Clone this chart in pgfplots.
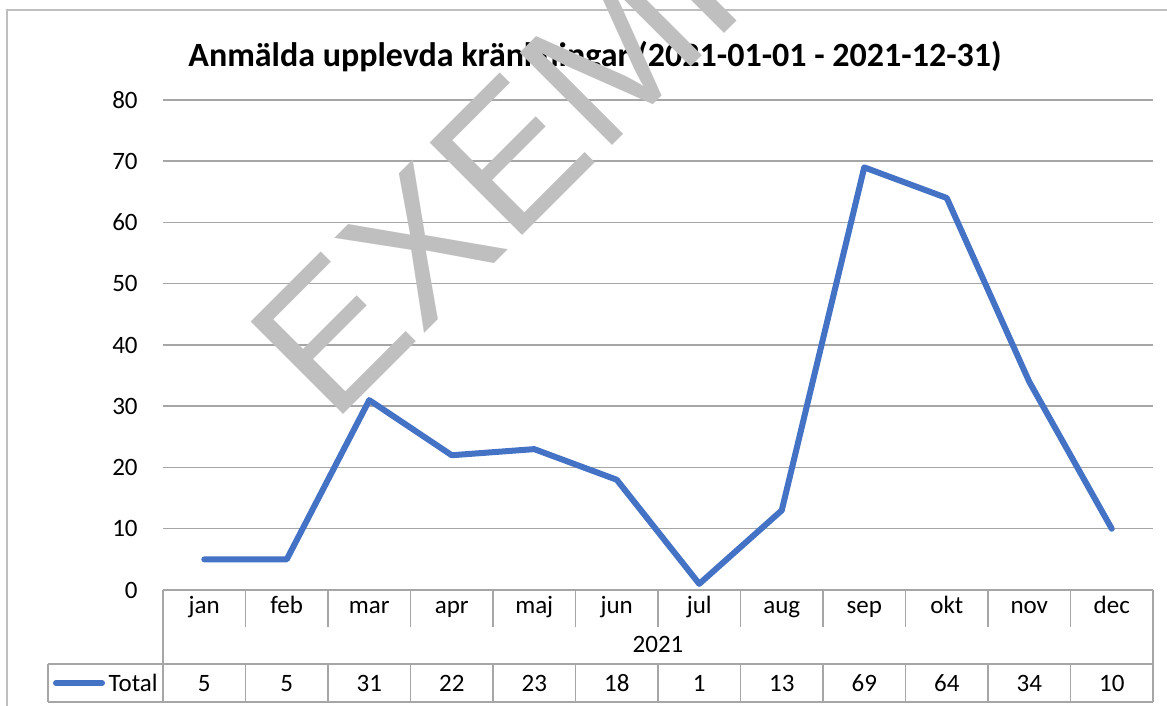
\documentclass[border=0pt]{standalone}
\usepackage{fontspec}
\setmainfont{Carlito}
\newfontfamily\wmfont{Liberation Sans}
\usepackage{pgfplots}
\pgfplotsset{compat=1.18}
\definecolor{xlblue}{HTML}{4472C4}
\definecolor{gridgray}{HTML}{A6A6A6}
\definecolor{wmgray}{HTML}{BFBFBF}

\pgfplotstableread{
m v
1 5
2 5
3 31
4 22
5 23
6 18
7 1
8 13
9 69
10 64
11 34
12 10
}\totaldata

\begin{document}
\begin{tikzpicture}[x=1pt,y=1pt]
\useasboundingbox (0,0) rectangle (583.5,353);
% chart frame
\draw[wmgray,line width=0.8pt] (3.5,-5) -- (3.5,348) -- (600,348);
% title
\node[anchor=base,inner sep=0,font=\fontsize{17}{17}\selectfont\bfseries] at (595/2,353-67/2)
  {Anmälda upplevda kränkningar (2021-01-01 - 2021-12-31)};
\begin{axis}[
  scale only axis, width=495pt, height=245pt,
  at={(81.5pt,58pt)}, anchor=south west,
  xmin=0.5, xmax=12.5, ymin=0, ymax=80,
  ytick={0,10,...,80}, xtick=\empty,
  axis line style={draw=none},
  ymajorgrids, grid style={gridgray,line width=0.75pt},
  major tick length=0pt,
  /pgf/number format/assume math mode=true,
  yticklabel style={font=\fontsize{12.5}{12.5}\selectfont,inner sep=0pt,anchor=east,xshift=-12.5pt},
  clip=false,
]
\addplot[xlblue,line width=3pt,line join=round,line cap=round,mark=none] table[x=m,y=v] {\totaldata};
\end{axis}
% category axis and data table
\begin{scope}[gridgray,line width=0.75pt]
  \draw (81.5,58) -- (81.5,2);
  \draw (576.5,58) -- (576.5,2);
  \foreach \i in {1,...,11} \draw ({81.5+41.25*\i},58) -- ({81.5+41.25*\i},39.5);
  \foreach \i in {1,...,11} \draw ({81.5+41.25*\i},21) -- ({81.5+41.25*\i},2);
  \draw (24,21) -- (576.5,21);
  \draw (24,2) -- (576.5,2);
  \draw (24,21) -- (24,2);
\end{scope}
\foreach \lab [count=\i] in {jan,feb,mar,apr,maj,jun,jul,aug,sep,okt,nov,dec}
  \node[anchor=base,inner sep=0,font=\fontsize{12.5}{12.5}\selectfont] at ({81.5+41.25*(\i-0.5)},46) {\lab};
\node[anchor=base,inner sep=0,font=\fontsize{12.5}{12.5}\selectfont] at (329,26.5) {2021};
\foreach \val [count=\i] in {5,5,31,22,23,18,1,13,69,64,34,10}
  \node[anchor=base,inner sep=0,font=\fontsize{12.5}{12.5}\selectfont] at ({81.5+41.25*(\i-0.5)},7) {\val};
\draw[xlblue,line width=3pt,line cap=round] (28,11.5) -- (51,11.5);
\node[anchor=base east,inner sep=0,font=\fontsize{12.5}{12.5}\selectfont] at (79,7) {Total};
% watermark
\node[rotate=45,anchor=base west,inner sep=0,text=wmgray,font=\fontsize{95}{95}\wmfont] at (332/2,353-426/2) {EXEMPEL};
\end{tikzpicture}
\end{document}
